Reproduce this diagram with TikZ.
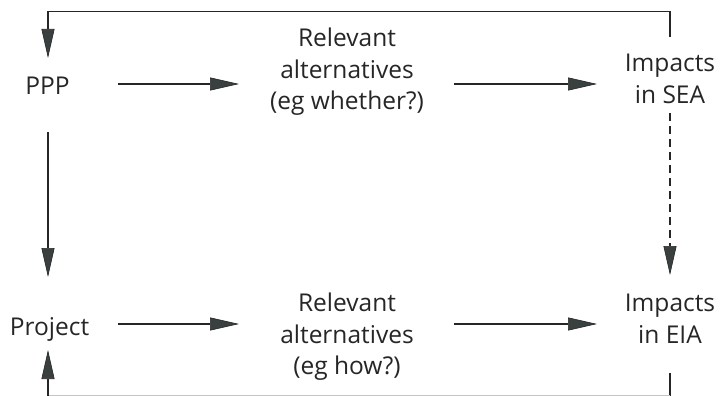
\documentclass[tikz,border=0pt]{standalone}
\usepackage{fontspec}
\setmainfont{Open Sans}
\usetikzlibrary{arrows.meta}
\definecolor{ink}{HTML}{262626}
\definecolor{tipfill}{HTML}{3A4040}
\definecolor{faint}{HTML}{C4C4C4}
\tikzset{
  lbl/.style={align=center, font=\fontsize{24.5}{31.5}\selectfont, text=ink, inner sep=0pt},
  flow/.style={draw=ink, line width=1.4pt,
    -{Triangle[length=29pt,width=13pt,fill=tipfill,line width=0.6pt]}},
  plain/.style={draw=ink, line width=1.4pt},
}
\begin{document}
\begin{tikzpicture}[x=1pt,y=-1pt]
  \useasboundingbox (0,0) rectangle (723,396);
  % top row
  \node[lbl] (ppp) at (47.5,86) {PPP};
  \node[lbl] (alt1) at (347,72) {Relevant\\alternatives\\(eg whether?)};
  \node[lbl] (sea) at (670,79) {Impacts\\in SEA};
  % bottom row
  \node[lbl] (proj) at (49.5,329) {Project};
  \node[lbl] (alt2) at (347,337) {Relevant\\alternatives\\(eg how?)};
  \node[lbl] (eia) at (670,319) {Impacts\\in EIA};
  % connector ends
  \coordinate (pppOut) at (118,84);
  \coordinate (alt1In) at (239,84);
  \coordinate (alt1Out) at (454,84);
  \coordinate (seaIn) at (597,84);
  \coordinate (projOut) at (118,324);
  \coordinate (alt2In) at (239,324);
  \coordinate (alt2Out) at (454,324);
  \coordinate (eiaIn) at (597,324);
  \coordinate (loopR) at (670,37);
  \coordinate (loopTR) at (670,11.5);
  \coordinate (loopTL) at (48,11.5);
  \coordinate (pppTop) at (48,58);
  \coordinate (pppBot) at (48,132);
  \coordinate (projTop) at (48,277);
  \coordinate (seaBot) at (670,113);
  \coordinate (eiaTop) at (670,275);
  \coordinate (projUnder) at (48,350);
  \coordinate (eiaUnder) at (670,373);
  \coordinate (loopBR) at (670,396);
  \coordinate (loopBL) at (48,396);
  % arrows
  \draw[flow] (pppOut) -- (alt1In);
  \draw[flow] (alt1Out) -- (seaIn);
  \draw[flow] (projOut) -- (alt2In);
  \draw[flow] (alt2Out) -- (eiaIn);
  \draw[flow] (loopR) -- (loopTR) -- (loopTL) -- (pppTop);
  \draw[flow] (pppBot) -- (projTop);
  \draw[flow, dash pattern=on 8pt off 5pt] (seaBot) -- (eiaTop);
  % return loop along the lower edge
  \draw[plain] (eiaUnder) -- (loopBR);
  \draw[plain, draw=faint, line width=1.2pt] (loopBR) -- (loopBL);
  \draw[flow] (loopBL) -- (projUnder);
\end{tikzpicture}
\end{document}
